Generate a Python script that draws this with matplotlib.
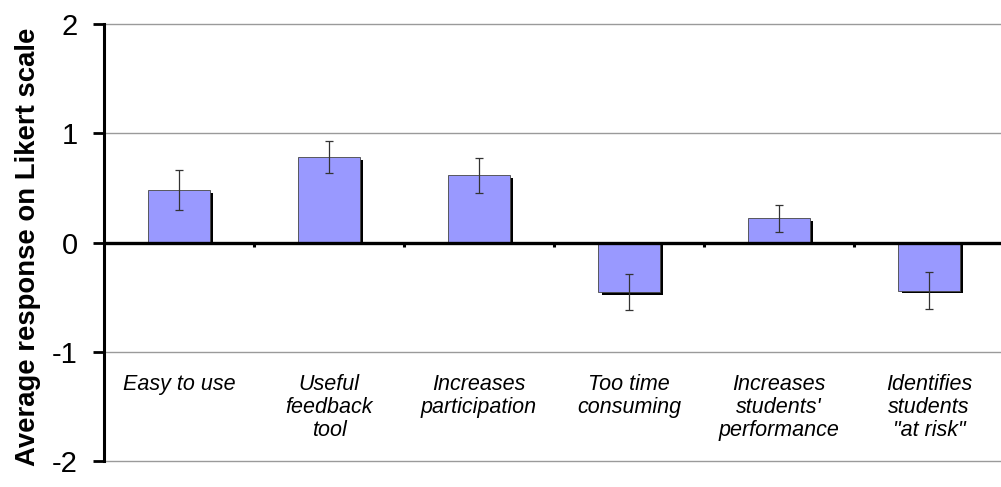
import matplotlib
matplotlib.use("Agg")
import matplotlib.pyplot as plt
import matplotlib.transforms as mtransforms
import numpy as np

categories = ["Easy to use", "Useful\nfeedback\ntool", "Increases\nparticipation",
              "Too time\nconsuming", "Increases\nstudents'\nperformance",
              "Identifies\nstudents\n\"at risk\""]
means = [0.48, 0.78, 0.615, -0.455, 0.22, -0.44]
errors = [0.18, 0.145, 0.16, 0.165, 0.12, 0.17]
yticks = [-2, -1, 0, 1, 2]

plt.rcParams['font.family'] = ['Liberation Sans', 'DejaVu Sans']

W, H = 1001, 487
fig = plt.figure(figsize=(W / 100, H / 100), dpi=100)
ax = fig.add_axes([104 / W, 26 / H, 900 / W, 437 / H])

x = np.arange(len(categories))
bw = 0.41

# shadow bars (offset right by ~3.5 px)
shadow_tr = ax.transData + mtransforms.ScaledTranslation(3.5 / 100, 0, fig.dpi_scale_trans)
shadow_h = [m - 0.025 for m in means]
ax.bar(x, shadow_h, width=bw, color='black', edgecolor='none', zorder=2,
       transform=shadow_tr)
ax.bar(x, means, width=bw, color='#9999FF', edgecolor='#444444', linewidth=0.6, zorder=3)
ax.errorbar(x, means, yerr=errors, fmt='none', ecolor='#333333', elinewidth=0.9,
            capsize=2.8, capthick=0.9, zorder=4)

ax.set_xlim(-0.5, len(categories) - 0.5)
ax.set_ylim(-2, 2)
for g in [-2, -1, 1, 2]:
    ax.axhline(g, color='#9a9a9a', lw=1.0, zorder=1, clip_on=False)
ax.axhline(0, color='black', lw=2.4, zorder=5)
bounds = np.arange(len(categories) - 1) + 0.5
ax.vlines(bounds, -0.045, 0, color='black', lw=2.2, zorder=5)

for xi, lab in zip(x, categories):
    ax.text(xi, -1.2, lab, ha='center', va='top', style='italic', fontsize=15.5,
            linespacing=1.15, color='black')

for s in ['top', 'right', 'bottom']:
    ax.spines[s].set_visible(False)
ax.spines['left'].set_linewidth(2.2)
ax.spines['left'].set_zorder(6)
ax.set_xticks([])
ax.set_yticks(yticks)
ax.set_yticklabels([str(t) for t in yticks])
ax.tick_params(axis='y', length=8, width=2, direction='out', labelsize=21, pad=11)

fig.text(28 / W, 1 - 247 / H, "Average response on Likert scale", rotation=90,
         ha='center', va='center', fontsize=19.8, fontweight='bold')

fig.savefig("out.png", dpi=100)
